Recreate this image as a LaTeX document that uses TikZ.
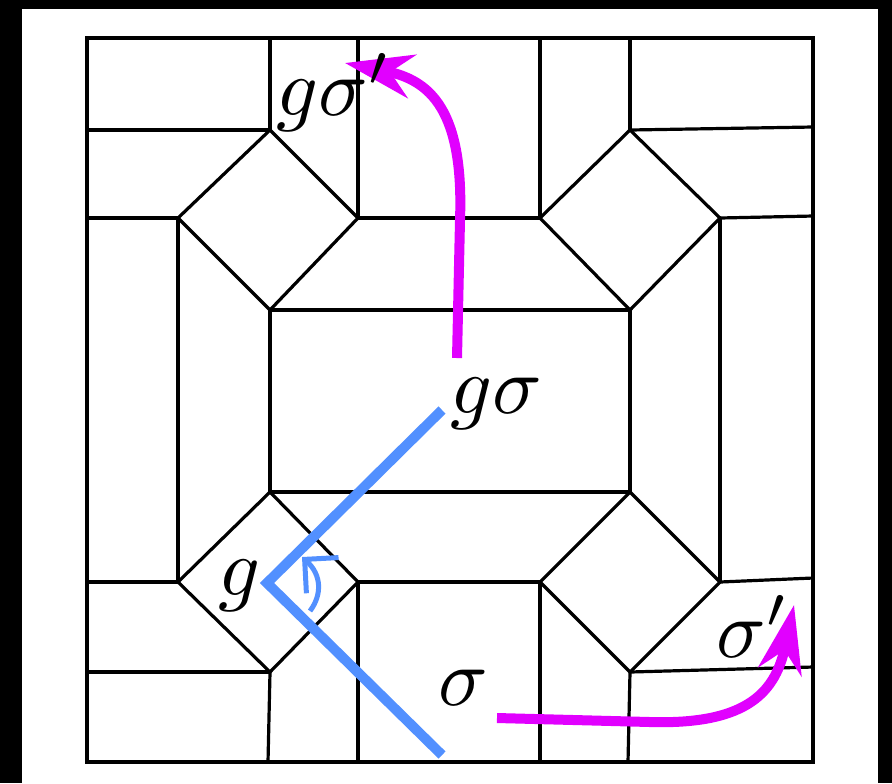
\documentclass[tikz,border=0pt]{standalone}
\usetikzlibrary{arrows.meta}
\definecolor{myblue}{RGB}{82,144,255}
\definecolor{mymag}{RGB}{225,0,255}
\tikzset{
  edge/.style={black,line width=1.6pt},
  blueline/.style={myblue,line width=5pt},
  magarrow/.style={mymag,line width=5pt,-{Stealth[length=34pt,width=22pt,inset=11pt]}},
  lbl/.style={inner sep=0pt,anchor=base west,scale=4.1}
}
\begin{document}
\begin{tikzpicture}[x=0.5pt,y=-0.5pt]
\useasboundingbox (0,0) rectangle (892,783);
\fill[black] (0,0) rectangle (892,783);
\fill[white] (22,9) rectangle (878,783);
% tiling
\draw[edge] (87,38) rectangle (813,762);
\draw[edge] (270,38)--(270,130);
\draw[edge] (358,38)--(358,218);
\draw[edge] (540,38)--(540,218);
\draw[edge] (630,38)--(630,130);
\draw[edge] (87,130)--(270,130);
\draw[edge] (630,130)--(813,127);
\draw[edge] (87,218)--(178,218);
\draw[edge] (720,218)--(813,216);
\draw[edge] (270,130)--(358,218)--(270,310)--(178,218)--cycle;
\draw[edge] (630,130)--(720,218)--(630,310)--(540,218)--cycle;
\draw[edge] (358,218)--(540,218);
\draw[edge] (270,310) rectangle (630,492);
\draw[edge] (178,218)--(178,582);
\draw[edge] (720,218)--(720,582);
\draw[edge] (270,492)--(358,582)--(270,672)--(178,582)--cycle;
\draw[edge] (630,492)--(720,582)--(630,672)--(540,582)--cycle;
\draw[edge] (358,582)--(540,582);
\draw[edge] (358,582)--(358,762);
\draw[edge] (540,582)--(540,762);
\draw[edge] (87,582)--(178,582);
\draw[edge] (87,672)--(270,672);
\draw[edge] (270,672)--(268,762);
\draw[edge] (720,582)--(813,578);
\draw[edge] (630,672)--(813,667);
\draw[edge] (630,672)--(628,762);
% blue lines
\coordinate (bA) at (442,410);
\coordinate (bV) at (267,583);
\coordinate (bB) at (442,755);
\draw[blueline,line join=miter] (bA)--(bV)--(bB);
\coordinate (arcS) at (310,611);
\coordinate (arcE) at (302,557);
\draw[myblue,line width=2.5pt,-{Straight Barb[length=12pt,width=24pt]}] (arcS) .. controls (322,595) and (322,575) .. (arcE);
% magenta arrows
\coordinate (m1s) at (457,358);
\coordinate (m1a) at (460,220);
\coordinate (m1e) at (345,63);
\draw[magarrow] (m1s)--(m1a) .. controls (464,110) and (430,80) .. (m1e);
\coordinate (m2s) at (497,718);
\coordinate (m2a) at (650,722);
\coordinate (m2e) at (794,605);
\draw[magarrow] (m2s)--(m2a) .. controls (750,725) and (776,690) .. (m2e);
% labels
\node[lbl] (gsp) at (275,115) {$g\sigma'$};
\node[lbl] (gs) at (449,413) {$g\sigma$};
\node[lbl] (g) at (217,595) {$g$};
\node[lbl] (s) at (437,705) {$\sigma$};
\node[lbl] (sp) at (715,657) {$\sigma'$};
\end{tikzpicture}
\end{document}
